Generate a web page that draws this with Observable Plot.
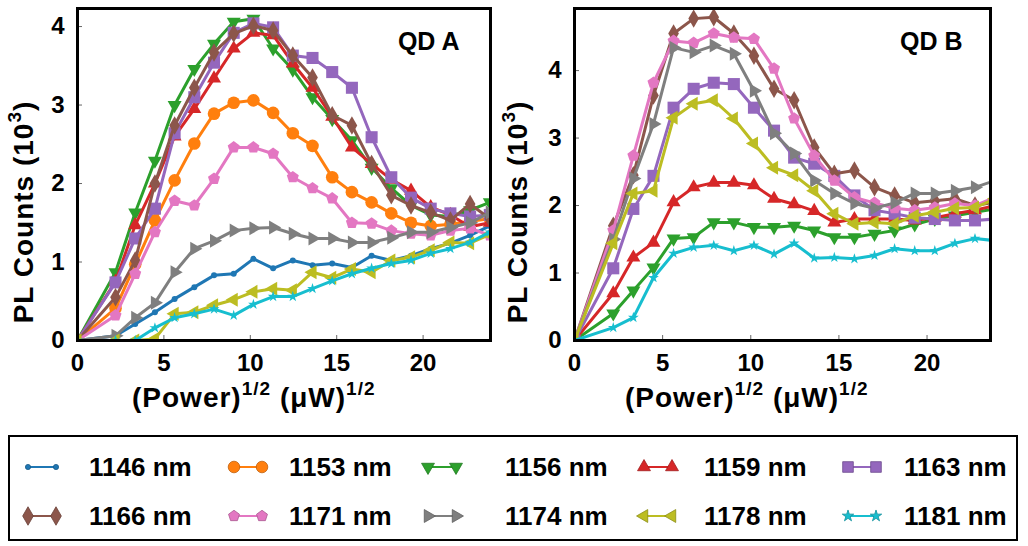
<!DOCTYPE html>
<html><head><meta charset="utf-8">
<script src="https://cdn.jsdelivr.net/npm/d3@7"></script>
<script src="https://cdn.jsdelivr.net/npm/@observablehq/plot@0.6"></script>
<style>
body{margin:0;background:#fff;font-family:"Liberation Sans",Arial,sans-serif;}
#root{position:relative;width:1028px;height:546px;overflow:hidden;background:#fff;}
.abs{position:absolute;}
.lbl{font-weight:bold;font-size:28px;letter-spacing:1px;white-space:nowrap;color:#000;line-height:1;}
.lbl sup{font-size:19px;vertical-align:0;position:relative;top:-12px;}
#legend{position:absolute;left:8px;top:435px;width:1010px;height:106px;border:2px solid #000;box-sizing:border-box;}
.item{position:absolute;font-weight:bold;font-size:26px;white-space:nowrap;line-height:1;}
</style></head>
<body><div id="root"></div>
<script>
// ---------------- data ----------------
const sqrtPower = [0, 2.2, 3.34, 4.48, 5.62, 6.76, 7.9, 9.04, 10.18, 11.32, 12.46, 13.6, 14.74, 15.88, 17.02, 18.16, 19.3, 20.44, 21.58, 22.72, 23.86];
const names = ["1146 nm","1153 nm","1156 nm","1159 nm","1163 nm","1166 nm","1171 nm","1174 nm","1178 nm","1181 nm"];
const xTicks = [0, 5, 10, 15, 20];
const yTicksA = [0, 1, 2, 3, 4];
const yTicksB = [0, 1, 2, 3, 4];

// QD A (PL counts, 10^3)
const a1146 = [0, 0.06, 0.21, 0.36, 0.53, 0.68, 0.83, 0.85, 1.04, 0.92, 1.02, 0.96, 0.98, 0.93, 1.08, 1.02, 1.08, 1.17, 1.24, 1.34, 1.46];
const a1153 = [0, 0.41, 0.97, 1.53, 2.04, 2.51, 2.89, 3.03, 3.06, 2.9, 2.64, 2.48, 2.08, 1.89, 1.76, 1.62, 1.5, 1.46, 1.48, 1.52, 1.55];
const a1156 = [0, 0.87, 1.63, 2.29, 3.0, 3.46, 3.78, 4.06, 4.1, 3.72, 3.45, 3.1, 2.82, 2.55, 2.2, 1.94, 1.72, 1.6, 1.58, 1.66, 1.76];
const a1159 = [0, 0.75, 1.47, 2.0, 2.6, 2.95, 3.34, 3.72, 3.92, 3.89, 3.53, 3.22, 2.85, 2.46, 2.25, 2.05, 1.91, 1.7, 1.6, 1.45, 1.5];
const a1163 = [0, 0.74, 1.3, 1.68, 2.64, 3.1, 3.54, 3.92, 4.04, 3.99, 3.63, 3.6, 3.42, 3.22, 2.59, 2.08, 1.82, 1.68, 1.62, 1.58, 1.6];
const a1166 = [0, 0.55, 1.02, 2.0, 2.74, 3.22, 3.67, 3.91, 4.01, 3.95, 3.63, 3.35, 2.87, 2.74, 2.25, 1.85, 1.72, 1.63, 1.53, 1.74, 1.55];
const a1171 = [0, 0.32, 0.85, 1.38, 1.78, 1.72, 2.06, 2.46, 2.46, 2.38, 2.08, 1.94, 1.81, 1.5, 1.49, 1.4, 1.36, 1.34, 1.4, 1.43, 1.34];
const a1174 = [0, 0.06, 0.29, 0.48, 0.87, 1.17, 1.27, 1.4, 1.43, 1.44, 1.36, 1.3, 1.3, 1.25, 1.25, 1.31, 1.38, 1.38, 1.44, 1.5, 1.63];
const a1178 = [0, 0, 0, 0.02, 0.34, 0.36, 0.45, 0.52, 0.62, 0.66, 0.64, 0.87, 0.8, 0.91, 0.87, 1.02, 1.06, 1.15, 1.25, 1.24, 1.35];
const a1181 = [0, 0, 0, 0.16, 0.29, 0.34, 0.4, 0.32, 0.46, 0.56, 0.56, 0.66, 0.76, 0.85, 0.92, 0.98, 1.02, 1.11, 1.17, 1.25, 1.38];

// QD B (PL counts, 10^3)
const b1156 = [0, 0.4, 0.74, 1.08, 1.51, 1.53, 1.75, 1.75, 1.68, 1.68, 1.7, 1.63, 1.53, 1.53, 1.58, 1.63, 1.72, 1.8, 1.85, 1.9, 1.95];
const b1159 = [0, 0.7, 1.23, 1.45, 2.05, 2.27, 2.34, 2.34, 2.3, 2.1, 2.02, 1.92, 1.75, 1.8, 1.8, 1.8, 1.78, 1.82, 1.88, 1.93, 2.0];
const b1163 = [0, 1.07, 1.95, 2.44, 3.45, 3.73, 3.82, 3.8, 3.45, 3.11, 2.71, 2.62, 2.44, 2.15, 1.93, 1.88, 1.82, 1.8, 1.78, 1.78, 1.8];
const b1166 = [0, 1.7, 2.45, 3.63, 4.55, 4.77, 4.79, 4.55, 4.22, 3.73, 3.56, 2.86, 2.47, 2.52, 2.27, 2.15, 2.04, 2.07, 2.1, 2.0, 2.05];
const b1171 = [0, 1.63, 2.74, 3.82, 4.44, 4.41, 4.55, 4.49, 4.47, 4.03, 3.29, 2.74, 2.37, 2.12, 2.04, 1.96, 1.93, 1.97, 2.03, 2.0, 2.12];
const b1174 = [0, 1.5, 2.4, 3.21, 4.34, 4.27, 4.37, 4.25, 3.7, 3.07, 2.77, 2.37, 2.18, 2.03, 1.96, 2.04, 2.18, 2.18, 2.22, 2.27, 2.37];
const b1178 = [0, 1.44, 2.18, 2.22, 3.3, 3.51, 3.56, 3.29, 2.92, 2.56, 2.45, 2.22, 1.88, 1.73, 1.75, 1.73, 1.85, 1.9, 1.96, 1.97, 2.1];
const b1181 = [0, 0.19, 0.34, 0.93, 1.29, 1.38, 1.41, 1.33, 1.41, 1.28, 1.44, 1.22, 1.23, 1.21, 1.26, 1.36, 1.33, 1.33, 1.44, 1.51, 1.48];

// ---------------- styles ----------------
const colors = ["#1f77b4","#ff7f0e","#2ca02c","#d62728","#9467bd","#8c564b","#e377c2","#7f7f7f","#bcbd22","#17becf"];
const sqrt3 = Math.sqrt(3);
function triangle(rot) {
  return {draw(ctx, size) {
    const y = -Math.sqrt(size / (sqrt3 * 3));
    let pts = [[0, 2 * y], [-sqrt3 * y, -y], [sqrt3 * y, -y]];
    pts = pts.map(([px, py]) => rot === "down" ? [px, -py] : rot === "right" ? [-py, px] : rot === "left" ? [py, -px] : [px, py]);
    ctx.moveTo(pts[0][0], pts[0][1]);
    ctx.lineTo(pts[1][0], pts[1][1]);
    ctx.lineTo(pts[2][0], pts[2][1]);
    ctx.closePath();
  }};
}
const pentagon = {draw(ctx, size) {
  const R = Math.sqrt(2 * size / (5 * Math.sin(2 * Math.PI / 5)));
  for (let k = 0; k < 5; k++) {
    const a = -Math.PI / 2 + k * 2 * Math.PI / 5;
    const px = R * Math.cos(a), py = R * Math.sin(a);
    if (k === 0) ctx.moveTo(px, py); else ctx.lineTo(px, py);
  }
  ctx.closePath();
}};
const symbols = [d3.symbolCircle, d3.symbolCircle, triangle("down"), triangle("up"), d3.symbolSquare, d3.symbolDiamond, pentagon, triangle("right"), triangle("left"), d3.symbolStar];
const radii = [3, 6.3, 5.2, 5.2, 6.8, 5.6, 5.5, 5.2, 5.2, 3.4];
const legendRadii = [2.6, 5.8, 4.8, 4.8, 6, 5.6, 5, 4.8, 4.8, 3.6];

const seriesA = [a1146, a1153, a1156, a1159, a1163, a1166, a1171, a1174, a1178, a1181];
const seriesB = [null, null, b1156, b1159, b1163, b1166, b1171, b1174, b1178, b1181];

function panel(series, opts) {
  const marks = [];
  series.forEach((vals, i) => {
    if (!vals) return;
    const rows = vals.map((v, j) => ({x: sqrtPower[j], y: v}));
    marks.push(Plot.line(rows, {x: "x", y: "y", stroke: colors[i], strokeWidth: 3, clip: true}));
    marks.push(Plot.dot(rows, {x: "x", y: "y", fill: colors[i], stroke: "none", symbol: symbols[i], r: radii[i], clip: true}));
  });
  marks.push(Plot.axisX({ticks: xTicks, tickSize: -5, tickPadding: 18, stroke: "#666", tickFormat: d3.format("d"), label: null}));
  marks.push(Plot.axisY({ticks: opts.yTicks, tickSize: -5, tickPadding: 18, stroke: "#666", tickFormat: d3.format("d"), label: null}));
  marks.push(Plot.text([opts.title], {frameAnchor: "top-right", dx: opts.tdx, dy: 33, textAnchor: "end", lineAnchor: "middle", fontSize: 25, fontWeight: "bold", fill: "#000"}));
  marks.push(Plot.frame({stroke: "#000", strokeWidth: 3}));
  return Plot.plot({
    width: 514, height: 390,
    marginLeft: opts.ml, marginRight: opts.mr, marginTop: 8, marginBottom: 50,
    x: {domain: [0, opts.xmax], label: null},
    y: {domain: [0, opts.ymax], label: null},
    style: {fontFamily: "'Liberation Sans', Arial, sans-serif", fontSize: "24px", fontWeight: "bold", color: "#000", background: "transparent", overflow: "visible"},
    marks
  });
}

const root = document.getElementById("root");
const pa = panel(seriesA, {ml: 77, mr: 24, xmax: 23.9, ymax: 4.23, yTicks: yTicksA, title: "QD A", tdx: -31});
pa.style.position = "absolute"; pa.style.left = "0px"; pa.style.top = "0px";
root.appendChild(pa);
const pb = panel(seriesB, {ml: 60, mr: 38, xmax: 23.6, ymax: 4.92, yTicks: yTicksB, title: "QD B", tdx: -28});
pb.style.position = "absolute"; pb.style.left = "514px"; pb.style.top = "0px";
root.appendChild(pb);

// axis labels
function addLabel(html, cx, cy, rotate) {
  const d = document.createElement("div");
  d.className = "abs lbl";
  d.innerHTML = html;
  root.appendChild(d);
  const w = d.offsetWidth, h = d.offsetHeight;
  d.style.left = (cx - w / 2) + "px";
  d.style.top = (cy - h / 2) + "px";
  if (rotate) d.style.transform = "rotate(-90deg)";
}
const xLabel = "(Power)<sup>1/2</sup> (\u03bcW)<sup>1/2</sup>";
const yLabel = "PL Counts (10<sup>3</sup>)";
addLabel(xLabel, 254, 398, false);
addLabel(xLabel, 747, 398, false);
addLabel(yLabel, 24, 212, true);
addLabel(yLabel, 518, 212, true);

// legend
const legend = document.createElement("div");
legend.id = "legend";
root.appendChild(legend);
const swatchX = [40, 246, 440, 656, 860];
const textX = [87, 287, 503, 702, 902];
const rowY = [465, 514];
names.forEach((name, i) => {
  const row = Math.floor(i / 5), col = i % 5;
  const sw = 44, sh = 22;
  const svg = d3.create("svg").attr("width", sw).attr("height", sh)
    .style("position", "absolute")
    .style("left", (swatchX[col] - sw / 2 - 8) + "px")
    .style("top", (rowY[row] - sh / 2 - 435) + "px");
  svg.append("line").attr("x1", 8).attr("x2", sw - 8).attr("y1", sh / 2).attr("y2", sh / 2)
    .attr("stroke", colors[i]).attr("stroke-width", 2);
  const p = d3.path();
  symbols[i].draw(p, Math.PI * legendRadii[i] * legendRadii[i]);
  [8, sw - 8].forEach(cx => {
    svg.append("path").attr("d", p.toString()).attr("transform", `translate(${cx},${sh / 2})`)
      .attr("fill", colors[i]).attr("stroke", d3.color(colors[i]).darker(0.8)).attr("stroke-width", 0.8);
  });
  legend.appendChild(svg.node());
  const t = document.createElement("div");
  t.className = "item";
  t.textContent = name;
  legend.appendChild(t);
  t.style.left = (textX[col] - 8) + "px";
  t.style.top = (rowY[row] - 435 - t.offsetHeight / 2) + "px";
});
</script>
</body></html>
